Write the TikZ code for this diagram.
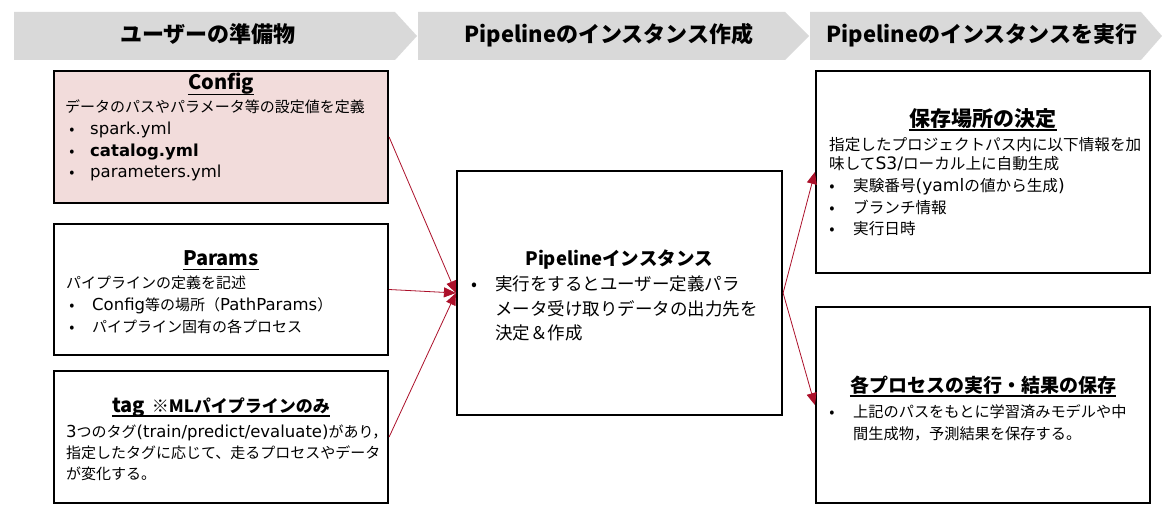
\documentclass[tikz,border=0pt]{standalone}
\usepackage{fontspec}
\setmainfont{Noto Sans CJK JP}
\newfontfamily\latf{DejaVu Sans}[Scale=1.1]
\usetikzlibrary{arrows.meta}
\definecolor{hdrgray}{RGB}{217,217,217}
\definecolor{pinkfill}{RGB}{242,220,219}
\definecolor{arrred}{RGB}{172,16,42}
\begin{document}
\begin{tikzpicture}[x=1pt,y=-1pt,
  box/.style={draw=black,line width=2.2pt,fill=white,inner sep=0pt},
  hdrtext/.style={font=\fontsize{22}{26}\selectfont\bfseries,inner sep=0pt,anchor=base},
  ttl/.style={font=\fontsize{20}{24}\selectfont\bfseries,inner sep=0pt,anchor=base},
  txs/.style={font=\fontsize{15}{18}\selectfont,inner sep=0pt,anchor=base west},
  txm/.style={font=\fontsize{17.5}{20}\selectfont,inner sep=0pt,anchor=base west},
  txr/.style={font=\fontsize{15.6}{18}\selectfont,inner sep=0pt,anchor=base west},
  txq/.style={font=\fontsize{15.2}{18}\selectfont,inner sep=0pt,anchor=base west},
  blt/.style={inner sep=0pt,anchor=base},
  uline/.style={line width=1.3pt},
  conn/.style={draw=arrred,line width=0.8pt,-{Triangle[length=12pt,width=10pt]}}]
\useasboundingbox (0,0) rectangle (1162,516);
\fill[white] (0,0) rectangle (1162,516);
% headers
\fill[hdrgray] (14,12) -- (395,12) -- (417,36) -- (395,60) -- (14,60) -- cycle;
\fill[hdrgray] (418,12) -- (785,12) -- (809,36) -- (785,60) -- (418,60) -- cycle;
\fill[hdrgray] (810,12) -- (1141,12) -- (1162,36) -- (1141,60) -- (810,60) -- cycle;
\node[hdrtext] (h1) at (208,43) {ユーザーの準備物};
\node[hdrtext] (h2) at (609,43) {Pipelineのインスタンス作成};
\node[hdrtext] (h3) at (982,43) {Pipelineのインスタンスを実行};
% boxes
\node[box,fill=pinkfill,minimum width=334pt,minimum height=132pt] (config) at (221,137) {};
\node[box,minimum width=334pt,minimum height=131pt] (params) at (221,289.5) {};
\node[box,minimum width=334pt,minimum height=132pt] (tag) at (221,437) {};
\node[box,minimum width=325pt,minimum height=244pt] (pipe) at (619.5,293) {};
\node[box,minimum width=334pt,minimum height=202pt] (r1) at (983,172) {};
\node[box,minimum width=334pt,minimum height=196pt] (r2) at (983,405) {};
% Config
\node[ttl] (ct) at (221,90) {Config};
\draw[uline] ([yshift=-4.5pt]ct.base west) -- ([yshift=-4.5pt]ct.base east);
\node[txs] (c1) at (65,113) {データのパスやパラメータ等の設定値を定義};
\node[txs,blt] (cb1) at (72,135) {•};
\node[txs,blt] (cb2) at (72,157) {•};
\node[txs,blt] (cb3) at (72,178) {•};
\node[txs] (c2) at (90,135) {\latf spark.yml};
\node[txs] (c3) at (90,157) {\latf\bfseries catalog.yml};
\node[txs] (c4) at (90,178) {\latf parameters.yml};
% Params
\node[ttl] (pt) at (221,265) {Params};
\draw[uline] ([yshift=-4.5pt]pt.base west) -- ([yshift=-4.5pt]pt.base east);
\node[txs] (p1) at (66,288) {パイプラインの定義を記述};
\node[txs,blt] (pb1) at (72,310) {•};
\node[txs,blt] (pb2) at (72,332) {•};
\node[txs] (p2) at (92,310) {{\latf Config}等の場所（{\latf PathParams}）};
\node[txs] (p3) at (92,332) {パイプライン固有の各プロセス};
% tag
\node[ttl] (tt) at (221,412) {tag\hspace{7pt}{\fontsize{17}{20}\selectfont ※MLパイプラインのみ}};
\draw[uline] ([yshift=-4pt]tt.base west) -- ([yshift=-4pt]tt.base east);
\node[txs] (t1) at (66,437) {{\latf 3}つのタグ{\latf (train/predict/evaluate)}があり，};
\node[txs] (t2) at (66,458) {指定したタグに応じて、走るプロセスやデータ};
\node[txs] (t3) at (66,479) {が変化する。};
% Pipeline
\node[ttl,font=\fontsize{18.5}{22}\selectfont\bfseries] (mt) at (619,265) {Pipelineインスタンス};
\node[txm,blt] (mb1) at (474,290) {•};
\node[txm] (m1) at (495,290) {実行をするとユーザー定義パラ};
\node[txm] (m2) at (495,315) {メータ受け取りデータの出力先を};
\node[txm] (m3) at (495,339) {決定＆作成};
% r1
\node[ttl,font=\fontsize{21}{24}\selectfont\bfseries] (rt1) at (983,127) {保存場所の決定};
\draw[uline] ([yshift=-3pt]rt1.base west) -- ([yshift=-3pt]rt1.base east);
\node[txr] (ra1) at (829,150) {指定したプロジェクトパス内に以下情報を加};
\node[txr] (ra2) at (829,170) {味して{\latf S3/}ローカル上に自動生成};
\node[txr,blt] (rb1) at (832,191) {•};
\node[txr,blt] (rb2) at (832,213) {•};
\node[txr,blt] (rb3) at (832,234) {•};
\node[txr] (ra3) at (853,191) {実験番号{\latf (yaml}の値から生成{\latf )}};
\node[txr] (ra4) at (853,213) {ブランチ情報};
\node[txr] (ra5) at (853,234) {実行日時};
% r2
\node[ttl,font=\fontsize{19}{22}\selectfont\bfseries] (rt2) at (983,392) {各プロセスの実行・結果の保存};
\draw[uline] ([yshift=-4pt]rt2.base west) -- ([yshift=-4pt]rt2.base east);
\node[txq,blt] (rc1) at (832,417) {•};
\node[txq] (rq1) at (853,417) {上記のパスをもとに学習済みモデルや中};
\node[txq] (rq2) at (853,439) {間生成物，予測結果を保存する。};
% connectors
\draw[conn] (config.east) -- (pipe.west);
\draw[conn] (params.east) -- (pipe.west);
\draw[conn] (tag.east) -- (pipe.west);
\draw[conn] (pipe.east) -- (r1.west);
\draw[conn] (pipe.east) -- (r2.west);
\end{tikzpicture}
\end{document}
